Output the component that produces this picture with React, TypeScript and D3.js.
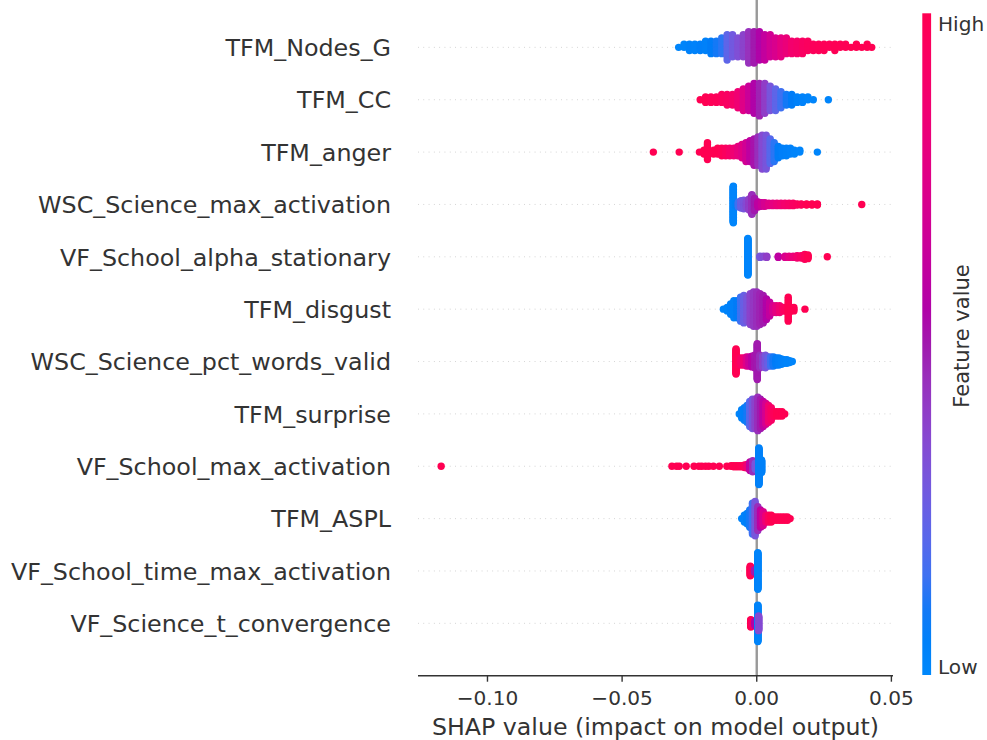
import React from "react";
import * as d3 from "d3";

// Feature names, top to bottom
const features: string[] = [
  "TFM_Nodes_G",
  "TFM_CC",
  "TFM_anger",
  "WSC_Science_max_activation",
  "VF_School_alpha_stationary",
  "TFM_disgust",
  "WSC_Science_pct_words_valid",
  "TFM_surprise",
  "VF_School_max_activation",
  "TFM_ASPL",
  "VF_School_time_max_activation",
  "VF_Science_t_convergence",
];

// Each entry: [SHAP value, number of stacked samples at that value, feature value (0 low .. 1 high)]
type G = [number, number, number];

const nodesG: G[] = [
  [-0.029, 1, 0.02], [-0.027, 2, 0.03], [-0.025, 3, 0.05], [-0.023, 3, 0.04], [-0.021, 3, 0.06],
  [-0.019, 4, 0.05], [-0.017, 5, 0.08], [-0.015, 5, 0.1], [-0.013, 6, 0.12], [-0.011, 9, 0.22],
  [-0.009, 8, 0.28], [-0.007, 7, 0.33], [-0.005, 8, 0.38], [-0.003, 11, 0.44], [-0.001, 11, 0.5],
  [0.001, 10, 0.55], [0.003, 9, 0.62], [0.005, 8, 0.68], [0.007, 7, 0.72], [0.009, 7, 0.78],
  [0.011, 6, 0.82], [0.013, 5, 0.88], [0.015, 5, 0.9], [0.017, 5, 0.93], [0.019, 4, 0.95],
  [0.021, 3, 0.96], [0.023, 3, 0.97], [0.025, 3, 0.98], [0.027, 2, 0.98], [0.029, 3, 0.99],
  [0.031, 2, 0.99], [0.033, 2, 0.99], [0.035, 1, 1], [0.037, 2, 1], [0.039, 1, 1],
  [0.041, 2, 1], [0.0427, 1, 1],
];

const cc: G[] = [
  [-0.021, 1, 1], [-0.019, 3, 1], [-0.017, 3, 0.98], [-0.015, 3, 0.97], [-0.013, 4, 0.95],
  [-0.011, 5, 0.93], [-0.009, 5, 0.9], [-0.007, 7, 0.85], [-0.005, 9, 0.75], [-0.003, 10, 0.65],
  [-0.001, 12, 0.55], [0.001, 13, 0.48], [0.003, 12, 0.4], [0.005, 10, 0.3], [0.007, 9, 0.22],
  [0.009, 7, 0.15], [0.011, 5, 0.1], [0.013, 5, 0.08], [0.015, 3, 0.05], [0.017, 3, 0.04],
  [0.019, 2, 0.03], [0.021, 1, 0.02], [0.0266, 1, 0.02],
];

const anger: G[] = [
  [-0.0384, 1, 1], [-0.0288, 1, 1], [-0.0213, 1, 1], [-0.0196, 3, 1], [-0.0183, 10, 1],
  [-0.016, 3, 1], [-0.0145, 4, 1], [-0.013, 5, 0.98], [-0.0115, 5, 0.95], [-0.01, 5, 0.9],
  [-0.0085, 5, 0.85], [-0.007, 6, 0.8], [-0.0055, 8, 0.75], [-0.004, 11, 0.68], [-0.0025, 12, 0.6],
  [-0.001, 15, 0.52], [0.0005, 16, 0.45], [0.002, 19, 0.35], [0.0035, 19, 0.3], [0.005, 14, 0.2],
  [0.0065, 11, 0.12], [0.008, 7, 0.08], [0.0095, 5, 0.06], [0.011, 5, 0.05], [0.0125, 4, 0.04],
  [0.014, 3, 0.03], [0.016, 2, 0.02], [0.0225, 1, 0.02],
];

const wscMaxAct: G[] = [
  [-0.0087, 61, 0.02], [-0.0078, 5, 0.05], [-0.0068, 9, 0.15], [-0.0058, 13, 0.25], [-0.0048, 15, 0.3],
  [-0.0038, 11, 0.35], [-0.0028, 19, 0.4], [-0.0018, 33, 0.45], [-0.0008, 21, 0.5], [0.0005, 9, 0.6],
  [0.0018, 7, 0.65], [0.003, 7, 0.7], [0.0045, 5, 0.75], [0.006, 5, 0.78], [0.0075, 5, 0.82],
  [0.009, 5, 0.85], [0.0105, 5, 0.88], [0.012, 5, 0.9], [0.0135, 5, 0.93], [0.015, 3, 0.95],
  [0.0165, 3, 0.97], [0.0185, 3, 1], [0.0205, 3, 1], [0.0225, 3, 1], [0.039, 1, 1],
];

const vfAlpha: G[] = [
  [-0.0033, 61, 0.02], [0.0012, 3, 0.3], [0.0025, 2, 0.35], [0.0037, 3, 0.4], [0.008, 3, 0.6],
  [0.0105, 3, 0.72], [0.012, 3, 0.78], [0.0135, 3, 0.82], [0.015, 5, 0.88], [0.0165, 5, 0.92],
  [0.0178, 9, 0.96], [0.019, 7, 1], [0.0262, 1, 1],
];

const disgust: G[] = [
  [-0.0124, 1, 0.02], [-0.011, 3, 0.03], [-0.0097, 7, 0.05], [-0.0085, 11, 0.05], [-0.0073, 11, 0.08],
  [-0.006, 15, 0.15], [-0.0048, 17, 0.25], [-0.0036, 15, 0.3], [-0.0024, 19, 0.38], [-0.0012, 21, 0.42],
  [0.0, 21, 0.45], [0.0012, 19, 0.48], [0.0024, 17, 0.5], [0.0036, 13, 0.55], [0.0048, 9, 0.62],
  [0.006, 5, 0.7], [0.0072, 5, 0.78], [0.0085, 5, 0.85], [0.0098, 3, 0.92], [0.0105, 3, 0.95],
  [0.0117, 15, 1], [0.0128, 3, 1], [0.0138, 3, 1], [0.0179, 1, 1],
];

const wscPct: G[] = [
  [-0.0077, 29, 1], [-0.0068, 9, 0.98], [-0.0058, 9, 0.92], [-0.0048, 9, 0.85], [-0.0038, 11, 0.75],
  [-0.0028, 11, 0.65], [-0.0018, 13, 0.58], [-0.0008, 15, 0.52], [0.0002, 41, 0.5], [0.0012, 15, 0.45],
  [0.0022, 13, 0.38], [0.0032, 15, 0.3], [0.0042, 11, 0.25], [0.0052, 11, 0.15], [0.0062, 11, 0.1],
  [0.0072, 9, 0.08], [0.0082, 9, 0.06], [0.0092, 7, 0.05], [0.0102, 5, 0.04], [0.0112, 5, 0.03],
  [0.0122, 3, 0.03], [0.0132, 1, 0.02],
];

const surprise: G[] = [
  [-0.0065, 1, 0.03], [-0.0056, 5, 0.04], [-0.0046, 7, 0.06], [-0.0036, 9, 0.1], [-0.0026, 13, 0.2],
  [-0.0016, 15, 0.3], [-0.0006, 15, 0.38], [0.0004, 17, 0.45], [0.0014, 15, 0.5], [0.0024, 13, 0.6],
  [0.0034, 11, 0.7], [0.0044, 9, 0.85], [0.0054, 7, 0.92], [0.0064, 3, 0.97], [0.0074, 3, 1],
  [0.0084, 3, 1], [0.0094, 3, 1], [0.0104, 1, 1],
];

const vfMaxAct: G[] = [
  [-0.1172, 1, 1], [-0.0315, 1, 1], [-0.0298, 1, 1], [-0.0288, 1, 1], [-0.0262, 1, 1],
  [-0.0233, 1, 1], [-0.0215, 1, 1], [-0.0204, 1, 1], [-0.019, 1, 1], [-0.0178, 1, 1],
  [-0.0161, 1, 1], [-0.0139, 1, 1], [-0.0111, 1, 1], [-0.0095, 2, 1], [-0.0085, 3, 1],
  [-0.0075, 3, 1], [-0.0065, 3, 1], [-0.0055, 3, 0.98], [-0.0045, 5, 0.95], [-0.0035, 7, 0.85],
  [-0.0025, 15, 0.6], [-0.0015, 19, 0.45], [-0.0005, 11, 0.3], [0.0008, 61, 0.05], [0.0018, 21, 0.05],
];

const aspl: G[] = [
  [-0.0056, 1, 0.03], [-0.0046, 5, 0.04], [-0.0036, 7, 0.06], [-0.0026, 11, 0.1], [-0.0016, 19, 0.15],
  [-0.0006, 21, 0.3], [0.0004, 15, 0.45], [0.0014, 11, 0.6], [0.0024, 9, 0.72], [0.0034, 5, 0.85],
  [0.0044, 5, 0.95], [0.0054, 5, 1], [0.0064, 3, 1], [0.0074, 3, 1], [0.0084, 3, 1],
  [0.0094, 3, 1], [0.0104, 3, 1], [0.0114, 3, 1], [0.0124, 1, 1],
];

const vfTimeMax: G[] = [
  [-0.0024, 17, 1], [-0.0017, 9, 0.95], [-0.0008, 5, 0.5], [0.0004, 61, 0.03],
];

const vfTConv: G[] = [
  [-0.0022, 13, 1], [-0.0016, 7, 0.9], [-0.0006, 9, 0.55], [0.0004, 61, 0.03], [0.0007, 25, 0.35],
];

const rowsData: G[][] = [
  nodesG, cc, anger, wscMaxAct, vfAlpha, disgust, wscPct, surprise, vfMaxAct, aspl, vfTimeMax, vfTConv,
];

const xTicks: number[] = [-0.1, -0.05, 0, 0.05];
const xTickLabels: string[] = ["\u22120.10", "\u22120.05", "0.00", "0.05"];

function shapColor(t: number): string {
  const h = 266.93 + t * (380.32 - 266.93);
  const c = 70 + 20 * t;
  const l = t < 0.5 ? 54 - 28 * t : 40 + 28 * (t - 0.5);
  return d3.hcl(h % 360, c, l).formatHex();
}

const FONT = "DejaVu Sans, sans-serif";

export default function App() {
  const left = 418;
  const right = 893;
  const bottom = 675.7;
  const x = d3.scaleLinear().domain([-0.1258, 0.0506]).range([left, right]);
  const y = d3.scaleLinear().domain([-1, 12]).range([bottom, -5]);
  const n = features.length;

  const dots: { cx: number; cy: number; fill: string }[] = [];
  rowsData.forEach((groups, i) => {
    const pos = n - 1 - i;
    const pts: { s: number; v: number; layer: number }[] = [];
    groups.forEach(([s, c, v]) => {
      for (let k = 0; k < c; k++) {
        const layer = Math.ceil(k / 2) * (k % 2 === 1 ? 1 : -1);
        pts.push({ s, v, layer });
      }
    });
    const maxY = d3.max(pts, (p) => p.layer + 1) || 1;
    const sc = (0.9 * 0.4) / maxY;
    pts.forEach((p) =>
      dots.push({ cx: x(p.s), cy: y(pos + p.layer * sc), fill: shapColor(p.v) })
    );
  });

  const stops = d3.range(0, 1.0001, 0.05);
  const cbX = 922.3;
  const cbW = 8.8;
  const cbTop = 13.3;
  const cbBottom = 675;

  return (
    <svg
      width={987}
      height={740}
      style={{ position: "absolute", left: 0, top: 0, display: "block", background: "#fff" }}
      fontFamily={FONT}
    >
      <defs>
        <linearGradient id="cbgrad" x1="0" y1="1" x2="0" y2="0">
          {stops.map((t) => (
            <stop key={t} offset={t} stopColor={shapColor(t)} />
          ))}
        </linearGradient>
      </defs>
      <rect x={0} y={0} width={987} height={740} fill="#fff" />

      {/* row guide lines */}
      {features.map((f, i) => {
        const yy = y(n - 1 - i);
        return (
          <line
            key={"g" + f}
            x1={left}
            x2={right}
            y1={yy}
            y2={yy}
            stroke="#cccccc"
            strokeWidth={0.9}
            strokeDasharray="0.9 4.4"
          />
        );
      })}

      {/* zero line */}
      <line x1={x(0)} x2={x(0)} y1={0} y2={bottom} stroke="#999999" strokeWidth={2.4} />

      {/* dots */}
      {dots.map((d, k) => (
        <circle key={k} cx={d.cx} cy={d.cy} r={3.7} fill={d.fill} />
      ))}

      {/* feature labels */}
      {features.map((f, i) => (
        <text
          key={"l" + f}
          x={391}
          y={y(n - 1 - i) + 8.7}
          textAnchor="end"
          fontSize={23.8}
          fill="#333333"
        >
          {f}
        </text>
      ))}

      {/* x axis */}
      <line x1={left} x2={right} y1={bottom} y2={bottom} stroke="#333333" strokeWidth={1.4} />
      {xTicks.map((t, k) => (
        <g key={"t" + t}>
          <line x1={x(t)} x2={x(t)} y1={bottom} y2={bottom + 6} stroke="#333333" strokeWidth={1.4} />
          <text x={x(t)} y={704.5} textAnchor="middle" fontSize={20.1} fill="#333333">
            {xTickLabels[k]}
          </text>
        </g>
      ))}
      <text x={(left + right) / 2} y={734.5} textAnchor="middle" fontSize={23.7} fill="#333333">
        SHAP value (impact on model output)
      </text>

      {/* colorbar */}
      <rect x={cbX} y={cbTop} width={cbW} height={cbBottom - cbTop} fill="url(#cbgrad)" />
      <text x={938} y={30.7} fontSize={20.1} fill="#333333">
        High
      </text>
      <text x={938} y={674} fontSize={20.1} fill="#333333">
        Low
      </text>
      <text
        transform={`translate(968.5, 336) rotate(-90)`}
        textAnchor="middle"
        fontSize={21}
        fill="#333333"
      >
        Feature value
      </text>
    </svg>
  );
}
